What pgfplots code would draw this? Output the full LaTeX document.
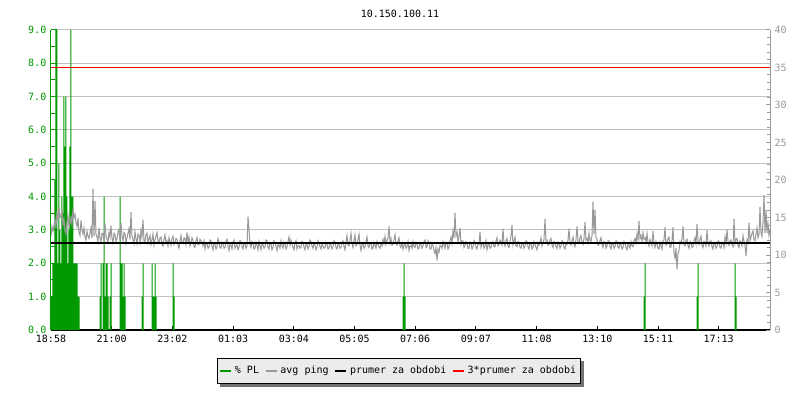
\documentclass[border=0pt]{standalone}
\usepackage{pgfplots}
\pgfplotsset{compat=1.18}
\usepackage{fontspec}
\setmainfont{DejaVu Sans Mono}
\definecolor{plgreen}{RGB}{0,153,0}
\definecolor{pinggray}{RGB}{153,153,153}
\definecolor{gridgray}{RGB}{192,192,192}
\definecolor{legbg}{RGB}{235,235,235}
\pgfplotsset{mybase/.style={
  scale only axis, width=539.25pt, height=225pt,
  at={(38.25pt,52.5pt)}, anchor=south west,
  xmin=0, xmax=719,
  tick label style={font=\fontsize{7.5pt}{9pt}\selectfont},
  /pgf/number format/assume math mode=true,
}}
\begin{document}
\begin{tikzpicture}[x=0.75pt,y=0.75pt]
\path[use as bounding box, fill=white] (0,0) rectangle (800,400);
\node[font=\fontsize{7.5pt}{9pt}\selectfont] at (400,386) {10.150.100.11};
\begin{axis}[mybase,
  ymin=0, ymax=9,
  axis x line*=bottom, axis y line*=left,
  x axis line style={black, line width=0.9pt, -},
  y axis line style={plgreen, line width=0.75pt, -},
  tick align=inside,
  xtick={0,60.7,121.4,182.1,242.8,303.5,364.2,424.9,485.6,546.3,607,667.7},
  xticklabels={18:58,21:00,23:02,01:03,03:04,05:05,07:06,09:07,11:08,13:10,15:11,17:13},
  xtick style={black, line width=0.75pt, /pgfplots/major tick length=3pt},
  x tick label style={black},
  ytick={0,1,...,9},
  minor y tick num=1,
  ytick style={plgreen, line width=0.75pt},
  minor tick length=3pt,
  y tick label style={plgreen, /pgf/number format/.cd, fixed, fixed zerofill, precision=1},
  ymajorgrids, major grid style={gridgray, line width=0.75pt},
]
\addplot[ybar, bar width=1, bar shift=0, fill=plgreen, draw=none] coordinates {
(0,1)(1,1)(2,2)(3,2)(4,4.5)(5,9)(6,9)(7,2)(8,5)(9,3)(10,2)(11,4)(12,3.5)(13,7)(14,5.5)
(15,7)(16,4)(17,2)(18,3)(19,5.5)(20,9)(21,4)(22,4)(23,2)(24,2)(25,2)(26,2)(27,1)(28,1)
(49,1)(50,2)(52,2)(53,4)(54,1)(55,2)(56,2)(57,1)(59,1)(60,2)
(69,4)(70,2)(71,2)(72,1)(73,2)(74,1)
(91,1)(92,2)(101,2)(102,1)(103,1)(104,2)(105,1)(122,2)(123,1)
(352,1)(353,2)(354,1)(593,1)(594,2)(646,1)(647,2)(684,2)(685,1)
};
\end{axis}
\begin{axis}[mybase,
  ymin=0, ymax=40,
  axis y line*=right, axis x line=none,
  y axis line style={pinggray, line width=0.75pt, -},
  ytick={0,5,...,40}, minor y tick num=4,
  tick align=inside, major tick length=3pt, minor tick length=2.25pt,
  ytick style={pinggray, line width=0.75pt},
  y tick label style={pinggray},
  legend style={name=leg, at={(0.484,-0.137)}, anchor=center, legend columns=4,
    fill=legbg, draw=black, line width=0.75pt,
    font=\fontsize{7.5pt}{9pt}\selectfont,
    inner xsep=1.5pt, inner ysep=3.6pt,
    /tikz/every even column/.append style={column sep=2.25pt}},
  legend image code/.code={\draw[#1, line width=1.8pt] (0pt,0pt) -- (8pt,0pt);},
]
\addlegendimage{plgreen}
\addplot[pinggray, line width=0.75pt] coordinates {
(0,12.5)(1,13.8)(2,13.2)(3,14.0)(4,14.8)(5,13.6)(6,15.8)(7,14.6)(8,16.3)(9,15.0)(10,15.2)(11,16.0)(12,14.0)(13,14.8)(14,13.2)(15,12.8)
(16,14.5)(17,15.3)(18,13.6)(19,14.2)(20,15.0)(21,14.1)(22,16.2)(23,15.0)(24,15.4)(25,14.3)(26,13.8)(27,14.9)(28,13.0)(29,12.6)(30,14.6)
(31,13.4)(32,12.8)(33,13.6)(34,12.4)(35,12.0)(36,13.2)(37,12.5)(38,12.2)(39,12.9)(40,13.6)(41,12.3)(42,18.8)(43,12.5)(44,17.2)(45,12.8)
(46,12.4)(47,11.8)(48,13.6)(49,12.3)(50,11.8)(51,12.9)(52,12.9)(53,11.9)(54,14.2)(55,12.6)(56,12.1)(57,11.7)(58,13.0)(59,12.4)(60,13.9)
(61,12.2)(62,11.6)(63,12.9)(64,12.7)(65,11.8)(66,12.2)(67,13.1)(68,13.4)(69,12.0)(70,14.3)(71,12.5)(72,11.9)(73,13.0)(74,12.8)(75,11.6)
(76,12.3)(77,12.9)(78,13.5)(79,12.1)(80,15.7)(81,12.6)(82,12.0)(83,11.5)(84,13.1)(85,12.2)(86,11.5)(87,12.8)(88,12.6)(89,11.7)(90,13.3)
(91,12.4)(92,14.7)(93,11.9)(94,11.8)(95,12.7)(96,12.9)(97,11.6)(98,12.2)(99,12.6)(100,11.4)(101,12.0)(102,12.8)(103,11.3)(104,12.0)(105,12.5)
(106,13.0)(107,11.8)(108,11.6)(109,12.3)(110,12.4)(111,11.4)(112,11.2)(113,12.1)(114,12.7)(115,11.6)(116,11.9)(117,11.2)(118,12.3)(119,11.8)(120,11.3)
(121,12.2)(122,12.5)(123,11.4)(124,11.7)(125,12.2)(126,12.1)(127,11.3)(128,10.9)(129,11.8)(130,12.6)(131,11.6)(132,11.5)(133,12.3)(134,12.2)(135,11.4)
(136,13.0)(137,11.8)(138,12.4)(139,11.2)(140,11.6)(141,12.3)(142,12.0)(143,11.1)(144,11.0)(145,11.9)(146,12.3)(147,11.4)(148,11.4)(149,12.1)(150,11.9)
(151,11.7)(152,11.2)(153,11.9)(154,10.8)(155,11.5)(156,11.6)(157,10.9)(158,11.0)(159,12.0)(160,11.9)(161,11.1)(162,10.7)(163,11.6)(164,11.4)(165,10.8)
(166,11.1)(167,12.2)(168,11.8)(169,11.0)(170,10.9)(171,11.7)(172,11.5)(173,10.9)(174,11.0)(175,11.8)(176,12.1)(177,11.2)(178,10.6)(179,11.5)(180,11.3)
(181,10.8)(182,11.7)(183,12.0)(184,10.9)(185,11.2)(186,11.4)(187,10.7)(188,11.0)(189,11.9)(190,11.8)(191,11.1)(192,10.8)(193,11.6)(194,11.5)(195,10.9)
(196,11.2)(197,15.1)(198,13.4)(199,11.4)(200,11.0)(201,11.8)(202,11.6)(203,10.8)(204,10.9)(205,11.7)(206,11.3)(207,10.7)(208,11.8)(209,11.2)(210,10.7)
(211,11.5)(212,11.4)(213,10.9)(214,11.1)(215,12.0)(216,11.9)(217,11.0)(218,10.8)(219,11.6)(220,11.5)(221,10.7)(222,11.0)(223,11.9)(224,11.7)(225,11.1)
(226,10.6)(227,11.4)(228,11.3)(229,10.9)(230,11.9)(231,11.2)(232,10.9)(233,11.7)(234,11.4)(235,10.8)(236,11.1)(237,11.8)(238,12.4)(239,11.3)(240,12.0)
(241,11.5)(242,11.0)(243,10.7)(244,11.6)(245,11.9)(246,10.8)(247,11.2)(248,11.3)(249,10.9)(250,11.0)(251,11.8)(252,11.7)(253,11.0)(254,10.7)(255,11.5)
(256,11.4)(257,10.8)(258,11.1)(259,12.0)(260,11.8)(261,11.2)(262,10.9)(263,11.6)(264,11.3)(265,10.7)(266,11.0)(267,11.9)(268,11.6)(269,11.1)(270,10.8)
(271,11.5)(272,11.2)(273,10.9)(274,11.0)(275,11.7)(276,11.5)(277,10.8)(278,10.9)(279,11.6)(280,11.3)(281,10.8)(282,11.1)(283,11.9)(284,11.7)(285,11.0)
(286,10.8)(287,11.5)(288,11.4)(289,10.9)(290,11.0)(291,11.7)(292,11.9)(293,11.1)(294,10.7)(295,11.8)(296,12.6)(297,11.3)(298,11.2)(299,12.0)(300,12.9)
(301,11.5)(302,11.0)(303,11.9)(304,12.7)(305,11.2)(306,11.4)(307,12.1)(308,12.8)(309,11.3)(310,10.6)(311,11.4)(312,11.5)(313,10.9)(314,11.1)(315,11.8)
(316,12.4)(317,11.2)(318,11.0)(319,11.6)(320,11.7)(321,10.8)(322,10.9)(323,11.7)(324,11.3)(325,10.9)(326,11.8)(327,11.4)(328,11.1)(329,10.9)(330,11.6)
(331,11.2)(332,12.1)(333,11.5)(334,12.5)(335,11.4)(336,11.9)(337,12.3)(338,13.8)(339,11.6)(340,12.2)(341,11.3)(342,11.4)(343,12.0)(344,12.7)(345,11.5)
(346,11.3)(347,11.9)(348,12.3)(349,11.2)(350,11.0)(351,11.6)(352,10.8)(353,11.3)(354,11.5)(355,10.9)(356,11.1)(357,11.8)(358,10.6)(359,11.2)(360,11.3)
(361,10.9)(362,11.8)(363,11.1)(364,11.0)(365,11.7)(366,11.5)(367,10.8)(368,10.9)(369,11.6)(370,11.4)(371,10.9)(372,11.2)(373,11.8)(374,12.0)(375,11.0)
(376,11.1)(377,11.9)(378,11.6)(379,10.8)(380,10.8)(381,11.5)(382,11.3)(383,10.6)(384,10.2)(385,11.0)(386,9.3)(387,10.8)(388,10.4)(389,11.3)(390,11.2)
(391,10.9)(392,11.8)(393,11.3)(394,10.9)(395,11.7)(396,11.5)(397,10.8)(398,11.1)(399,11.9)(400,12.4)(401,11.6)(402,13.2)(403,12.3)(404,15.6)(405,12.6)
(406,13.0)(407,11.8)(408,12.5)(409,13.6)(410,11.4)(411,11.9)(412,11.9)(413,11.0)(414,11.2)(415,11.8)(416,11.6)(417,10.9)(418,10.9)(419,11.7)(420,11.5)
(421,10.8)(422,11.1)(423,11.9)(424,11.7)(425,11.0)(426,10.8)(427,11.6)(428,11.4)(429,13.1)(430,11.0)(431,11.5)(432,11.6)(433,10.9)(434,11.2)(435,11.9)
(436,10.7)(437,11.3)(438,11.5)(439,10.9)(440,11.0)(441,11.7)(442,11.8)(443,11.1)(444,11.1)(445,11.9)(446,12.3)(447,11.2)(448,11.4)(449,12.0)(450,11.8)
(451,11.3)(452,13.5)(453,11.6)(454,11.2)(455,11.9)(456,12.2)(457,11.1)(458,11.0)(459,11.8)(460,12.5)(461,14.0)(462,11.3)(463,11.9)(464,12.4)(465,11.2)
(466,11.1)(467,11.8)(468,11.7)(469,11.0)(470,10.9)(471,11.6)(472,11.6)(473,10.9)(474,11.2)(475,11.9)(476,11.8)(477,11.1)(478,10.8)(479,11.6)(480,11.5)
(481,10.8)(482,11.0)(483,11.8)(484,11.4)(485,11.0)(486,10.7)(487,11.6)(488,11.3)(489,11.7)(490,12.3)(491,11.2)(492,11.6)(493,12.1)(494,14.8)(495,11.9)
(496,12.0)(497,11.3)(498,11.4)(499,12.0)(500,12.2)(501,11.3)(502,11.0)(503,11.8)(504,11.7)(505,11.1)(506,10.9)(507,11.7)(508,11.5)(509,10.9)(510,11.2)
(511,11.9)(512,11.8)(513,11.0)(514,10.8)(515,11.6)(516,11.4)(517,12.0)(518,13.5)(519,11.6)(520,11.3)(521,11.9)(522,12.4)(523,11.4)(524,11.1)(525,12.1)
(526,13.8)(527,11.8)(528,11.6)(529,12.3)(530,12.6)(531,11.7)(532,11.4)(533,12.2)(534,14.4)(535,12.0)(536,12.2)(537,11.6)(538,12.9)(539,11.9)(540,11.8)
(541,12.6)(542,17.1)(543,12.8)(544,16.0)(545,12.4)(546,12.1)(547,11.3)(548,11.4)(549,11.9)(550,12.3)(551,11.4)(552,11.0)(553,11.8)(554,11.7)(555,10.9)
(556,11.2)(557,11.9)(558,11.9)(559,11.1)(560,10.8)(561,11.6)(562,11.5)(563,10.9)(564,11.1)(565,11.9)(566,11.8)(567,11.0)(568,10.9)(569,11.6)(570,11.4)
(571,10.8)(572,11.0)(573,11.8)(574,11.6)(575,11.0)(576,10.7)(577,11.5)(578,11.3)(579,10.9)(580,11.8)(581,11.2)(582,11.1)(583,11.9)(584,12.2)(585,11.6)
(586,12.8)(587,12.0)(588,14.5)(589,12.2)(590,12.6)(591,11.8)(592,13.0)(593,12.1)(594,12.3)(595,11.7)(596,12.9)(597,11.6)(598,11.2)(599,12.1)(600,11.7)
(601,11.2)(602,13.2)(603,11.5)(604,11.0)(605,11.8)(606,11.4)(607,10.9)(608,10.8)(609,11.7)(610,11.3)(611,10.8)(612,11.9)(613,12.0)(614,13.7)(615,11.3)
(616,11.5)(617,12.2)(618,12.4)(619,11.0)(620,11.1)(621,12.0)(622,13.7)(623,10.3)(624,9.6)(625,10.9)(626,8.1)(627,10.2)(628,10.6)(629,11.8)(630,11.5)
(631,12.2)(632,13.8)(633,11.4)(634,11.2)(635,11.9)(636,12.1)(637,11.2)(638,10.9)(639,11.8)(640,11.6)(641,11.0)(642,11.1)(643,11.9)(644,12.3)(645,11.5)
(646,14.1)(647,11.9)(648,11.4)(649,12.1)(650,12.5)(651,11.3)(652,11.0)(653,11.8)(654,11.7)(655,11.2)(656,13.3)(657,11.6)(658,11.2)(659,11.8)(660,11.9)
(661,11.1)(662,10.8)(663,11.7)(664,11.5)(665,10.9)(666,11.1)(667,11.9)(668,11.8)(669,11.0)(670,10.9)(671,11.7)(672,11.6)(673,11.0)(674,12.4)(675,11.5)
(676,13.4)(677,11.8)(678,11.3)(679,11.9)(680,12.0)(681,11.4)(682,11.1)(683,14.8)(684,11.5)(685,12.1)(686,12.2)(687,11.3)(688,11.0)(689,11.9)(690,11.7)
(691,11.2)(692,12.6)(693,11.8)(694,11.3)(695,9.9)(696,12.0)(697,11.6)(698,14.3)(699,11.9)(700,12.4)(701,12.9)(702,13.2)(703,12.1)(704,11.9)(705,12.8)
(706,13.6)(707,12.3)(708,12.8)(709,16.4)(710,13.0)(711,12.5)(712,14.4)(713,18.0)(714,12.9)(715,16.0)(716,13.1)(717,14.2)(718,12.6)(719,13.4)
};
\addplot[black, line width=1.5pt] coordinates {(0,11.65)(719,11.65)};
\addplot[red, line width=0.75pt] coordinates {(0,35.05)(719,35.05)};
\legend{\% PL, avg ping, prumer za obdobi, 3*prumer za obdobi}
\end{axis}
\fill[black!55] ([yshift=-2.25pt]leg.north east) rectangle ([xshift=2.25pt,yshift=-2.25pt]leg.south east);
\fill[black!55] ([xshift=2.25pt]leg.south west) rectangle ([xshift=2.25pt,yshift=-2.25pt]leg.south east);
\end{tikzpicture}
\end{document}
